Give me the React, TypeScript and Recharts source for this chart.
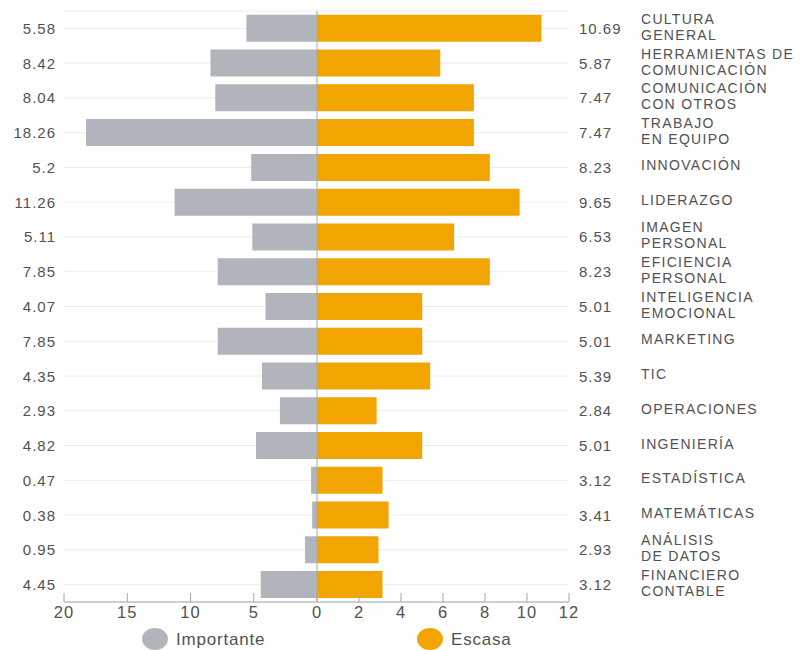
import { BarChart, Bar, XAxis, YAxis, CartesianGrid, ReferenceLine, Legend } from "recharts"

const areas = [
  "CULTURA\nGENERAL",
  "HERRAMIENTAS DE\nCOMUNICACIÓN",
  "COMUNICACIÓN\nCON OTROS",
  "TRABAJO\nEN EQUIPO",
  "INNOVACIÓN",
  "LIDERAZGO",
  "IMAGEN\nPERSONAL",
  "EFICIENCIA\nPERSONAL",
  "INTELIGENCIA\nEMOCIONAL",
  "MARKETING",
  "TIC",
  "OPERACIONES",
  "INGENIERÍA",
  "ESTADÍSTICA",
  "MATEMÁTICAS",
  "ANÁLISIS\nDE DATOS",
  "FINANCIERO\nCONTABLE",
]

const importante = [5.58, 8.42, 8.04, 18.26, 5.2, 11.26, 5.11, 7.85, 4.07, 7.85, 4.35, 2.93, 4.82, 0.47, 0.38, 0.95, 4.45]
const escasa = [10.69, 5.87, 7.47, 7.47, 8.23, 9.65, 6.53, 8.23, 5.01, 5.01, 5.39, 2.84, 5.01, 3.12, 3.41, 2.93, 3.12]

const importanteTicks = [0, 5, 10, 15, 20]
const escasaTicks = [2, 4, 6, 8, 10, 12]

const series = [
  { name: "Importante", color: "#b2b4bc" },
  { name: "Escasa", color: "#f2a500" },
]

const rows = areas.map((area, i) => ({ area, importante: importante[i], escasa: escasa[i] }))

const FONT = "'Liberation Sans', Arial, sans-serif"
const TEXT = "#525252"
const AXIS = "#a8a8a8"
const GRID = "#ececec"

function AxisTick({ x, y, payload }: any) {
  return (
    <g>
      <line x1={x} x2={x} y1={y - 9} y2={y} stroke={AXIS} />
      <text x={x} y={y + 16} textAnchor="middle" fontSize={16.5} letterSpacing={1} fill={TEXT} fontFamily={FONT}>
        {payload.value}
      </text>
    </g>
  )
}

function LeftValueTick({ x, y, index }: any) {
  return (
    <text x={x - 8} y={y + 5.5} textAnchor="end" fontSize={15} letterSpacing={1} fill={TEXT} fontFamily={FONT}>
      {importante[index]}
    </text>
  )
}

// value of the Escasa bar, then the area name (one or two lines)
function RightTick({ x, y, index }: any) {
  const lines = areas[index].split("\n")
  const first = lines.length > 1 ? y - 4.5 : y + 3
  return (
    <g fontFamily={FONT} fill={TEXT}>
      <text x={x + 10} y={y + 5.5} fontSize={15} letterSpacing={1}>
        {escasa[index]}
      </text>
      {lines.map((line, i) => (
        <text key={i} x={x + 72} y={first + i * 16} fontSize={14} letterSpacing={1.3}>
          {line}
        </text>
      ))}
    </g>
  )
}

function LegendRow() {
  return (
    <svg width={800} height={22} style={{ display: "block" }}>
      <ellipse cx={155} cy={11} rx={13} ry={11} fill={series[0].color} />
      <text x={176} y={17} fontSize={17} letterSpacing={0.8} fill={TEXT} fontFamily={FONT}>
        {series[0].name}
      </text>
      <ellipse cx={430} cy={11} rx={13} ry={11} fill={series[1].color} />
      <text x={451} y={17} fontSize={17} letterSpacing={0.8} fill={TEXT} fontFamily={FONT}>
        {series[1].name}
      </text>
    </svg>
  )
}

const layer = { position: "absolute" as const, left: 0, top: 0 }

export default function App() {
  return (
    <div style={{ position: "absolute", left: 0, top: 0, width: 800, height: 650, fontFamily: FONT }}>
      {/* left half: Importante, reversed scale 20 → 0 */}
      <div style={layer}>
        <BarChart
          width={800}
          height={650}
          data={rows}
          layout="vertical"
          margin={{ top: 11, right: 483, bottom: 22, left: 0 }}
          barCategoryGap="11%"
        >
          <CartesianGrid horizontal vertical={false} stroke={GRID} />
          <XAxis
            type="number"
            domain={[0, 20]}
            reversed
            ticks={importanteTicks}
            interval={0}
            height={26}
            tickSize={0}
            tickMargin={0}
            tickLine={false}
            axisLine={{ stroke: AXIS }}
            tick={<AxisTick />}
          />
          <YAxis
            type="category"
            dataKey="area"
            width={64}
            interval={0}
            tickSize={0}
            tickMargin={0}
            tickLine={false}
            axisLine={false}
            tick={<LeftValueTick />}
          />
          <Bar dataKey="importante" name={series[0].name} fill={series[0].color} isAnimationActive={false} />
        </BarChart>
      </div>

      {/* right half: Escasa, scale 0 → 12 */}
      <div style={layer}>
        <BarChart
          width={800}
          height={650}
          data={rows}
          layout="vertical"
          margin={{ top: 11, right: 0, bottom: 0, left: 317 }}
          barCategoryGap="11%"
        >
          <CartesianGrid horizontal vertical={false} stroke={GRID} />
          <XAxis
            type="number"
            domain={[0, 12]}
            ticks={escasaTicks}
            interval={0}
            height={26}
            tickSize={0}
            tickMargin={0}
            tickLine={false}
            axisLine={{ stroke: AXIS }}
            tick={<AxisTick />}
          />
          <YAxis
            type="category"
            dataKey="area"
            orientation="right"
            width={231}
            interval={0}
            tickSize={0}
            tickMargin={0}
            tickLine={false}
            axisLine={false}
            tick={<RightTick />}
          />
          <Bar dataKey="escasa" name={series[1].name} fill={series[1].color} isAnimationActive={false} />
          <ReferenceLine x={0} stroke={AXIS} />
          <Legend verticalAlign="bottom" wrapperStyle={{ left: 0, width: 800 }} content={() => <LegendRow />} />
        </BarChart>
      </div>
    </div>
  )
}
